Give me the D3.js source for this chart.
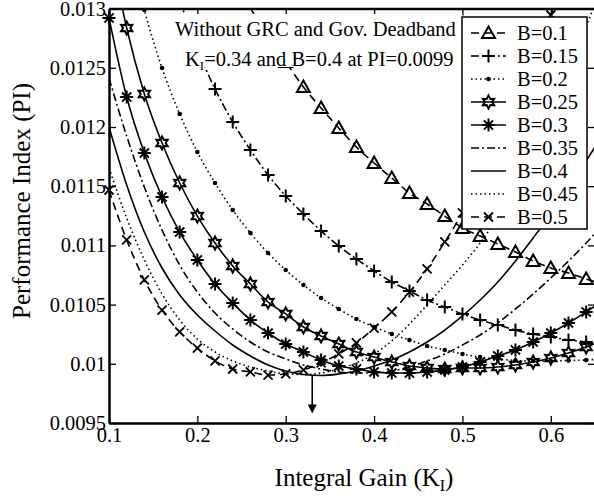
<!DOCTYPE html>
<html>
<head>
<meta charset="utf-8">
<script src="https://cdn.jsdelivr.net/npm/d3@7"></script>
<style>
  body { margin: 0; background: #fff; }
  svg, svg text { font-family: 'Liberation Serif', 'Times New Roman', Times, serif; }
</style>
</head>
<body>
<div id="chart"></div>
<script>
// integral gain samples (K_I)
const gains = [0.10, 0.12, 0.14, 0.16, 0.18, 0.20, 0.22, 0.24, 0.26, 0.28, 0.30, 0.32, 0.34, 0.36, 0.38,
  0.40, 0.42, 0.44, 0.46, 0.48, 0.50, 0.52, 0.54, 0.56, 0.58, 0.60, 0.62, 0.64, 0.66];

// performance index per B, null where the curve is off the chart
const piB010 = [null, null, null, null, null, null, null, 0.013284, 0.013005, 0.012760, 0.012549, 0.012338,
  0.012160, 0.011992, 0.011831, 0.011696, 0.011569, 0.011443, 0.011350, 0.011248, 0.011147, 0.011079,
  0.011012, 0.010944, 0.010868, 0.010809, 0.010767, 0.010716, 0.010674];
const piB015 = [null, null, null, null, 0.013073, 0.012659, 0.012321, 0.012042, 0.011806, 0.011595, 0.011417,
  0.011265, 0.011122, 0.010995, 0.010885, 0.010784, 0.010691, 0.010615, 0.010539, 0.010480, 0.010421,
  0.010370, 0.010328, 0.010285, 0.010252, 0.010226, 0.010201, 0.010184, 0.010167];
const piB020 = [null, 0.013596, 0.012988, 0.012498, 0.012110, 0.011789, 0.011527, 0.011299, 0.011105, 0.010936,
  0.010792, 0.010666, 0.010556, 0.010463, 0.010378, 0.010311, 0.010252, 0.010201, 0.010150, 0.010117,
  0.010083, 0.010057, 0.010041, 0.010028, 0.010024, 0.010024, 0.010028, 0.010032, 0.010041];
const piB025 = [0.013580, 0.012836, 0.012279, 0.011865, 0.011527, 0.011248, 0.011020, 0.010826, 0.010674,
  0.010522, 0.010421, 0.010311, 0.010235, 0.010167, 0.010100, 0.010057, 0.010015, 0.009981, 0.009965,
  0.009956, 0.009965, 0.009965, 0.009973, 0.009990, 0.010015, 0.010049, 0.010091, 0.010142, 0.010201];
const piB030 = [0.012921, 0.012253, 0.011780, 0.011409, 0.011113, 0.010877, 0.010674, 0.010514, 0.010370,
  0.010260, 0.010167, 0.010100, 0.010032, 0.009981, 0.009956, 0.009931, 0.009922, 0.009922, 0.009931,
  0.009948, 0.009973, 0.010015, 0.010066, 0.010117, 0.010184, 0.010260, 0.010345, 0.010438, 0.010539];
const piB035 = [0.012414, 0.011924, 0.011493, 0.011130, 0.010834, 0.010606, 0.010429, 0.010294, 0.010184,
  0.010100, 0.010041, 0.009990, 0.009956, 0.009931, 0.009922, 0.009922, 0.009939, 0.009973, 0.010024,
  0.010083, 0.010159, 0.010243, 0.010345, 0.010463, 0.010590, 0.010725, 0.010868, 0.011020, 0.011181];
const piB040 = [0.012000, 0.011510, 0.011113, 0.010809, 0.010581, 0.010412, 0.010277, 0.010159, 0.010066,
  0.009990, 0.009939, 0.009910, 0.009901, 0.009914, 0.009939, 0.009981, 0.010032, 0.010100, 0.010184,
  0.010285, 0.010404, 0.010539, 0.010691, 0.010868, 0.011063, 0.011265, 0.011485, 0.011713, 0.011949];
const piB045 = [0.011654, 0.011231, 0.010877, 0.010590, 0.010370, 0.010209, 0.010100, 0.010024, 0.009973,
  0.009939, 0.009914, 0.009910, 0.009922, 0.009956, 0.010007, 0.010083, 0.010193, 0.010336, 0.010497,
  0.010666, 0.010834, 0.011020, 0.011240, 0.011510, 0.011814, 0.012144, 0.012490, 0.012853, 0.013225];
const piB050 = [0.011468, 0.011046, 0.010708, 0.010454, 0.010269, 0.010133, 0.010024, 0.009956, 0.009931,
  0.009905, 0.009914, 0.009948, 0.010007, 0.010083, 0.010176, 0.010302, 0.010438, 0.010606, 0.010801,
  0.011029, 0.011274, 0.011552, 0.011856, 0.012186, 0.012549, 0.012946, 0.013368, null, null];

const seriesNames = ['B=0.1', 'B=0.15', 'B=0.2', 'B=0.25', 'B=0.3', 'B=0.35', 'B=0.4', 'B=0.45', 'B=0.5'];
const seriesValues = [piB010, piB015, piB020, piB025, piB030, piB035, piB040, piB045, piB050];

const xTicks = [0.1, 0.2, 0.3, 0.4, 0.5, 0.6];
const xTickLabels = ['0.1', '0.2', '0.3', '0.4', '0.5', '0.6'];
const yTicks = [0.0095, 0.01, 0.0105, 0.011, 0.0115, 0.012, 0.0125, 0.013];
const yTickLabels = ['0.0095', '0.01', '0.0105', '0.011', '0.0115', '0.012', '0.0125', '0.013'];

// optimum marked by the arrow
const optimumGain = 0.33;
const optimumPI = 0.0099;
const arrowEndPI = 0.00958;

const FONT = "'Liberation Serif', 'Times New Roman', Times, serif";

/**
 * Line style and marker for each series
 */
const DASH = { solid: null, dashed: '8,5', dashdot: '8,3,2,3', dotted: '1.5,3' };
const styles = [
  { dash: DASH.dashed, marker: 'triangle' },
  { dash: DASH.dashdot, marker: 'plus' },
  { dash: DASH.dotted, marker: 'dot' },
  { dash: DASH.solid, marker: 'hexagram' },
  { dash: DASH.solid, marker: 'asterisk' },
  { dash: DASH.dashdot, marker: null },
  { dash: DASH.solid, marker: null },
  { dash: DASH.dotted, marker: null },
  { dash: DASH.dashed, marker: 'cross' }
];

const W = 594, H = 500;
const plot = { left: 109, right: 595, top: 8.6, bottom: 423 };

const svg = d3.select('#chart').append('svg')
  .attr('width', W)
  .attr('height', H)
  .attr('font-family', FONT);

const x = d3.scaleLinear().domain([0.1, 0.65]).range([plot.left, plot.right]);
const y = d3.scaleLinear().domain([0.0095, 0.013]).range([plot.bottom, plot.top]);

svg.append('clipPath').attr('id', 'plot-clip')
  .append('rect')
    .attr('x', plot.left).attr('y', plot.top)
    .attr('width', plot.right - plot.left).attr('height', plot.bottom - plot.top);

/**
 * Returns svg path of a marker centered on 0,0
 */
let markerPath = type => {
  if (type == 'triangle') return 'M0,-6.5L6.5,5L-6.5,5Z';
  if (type == 'plus') return 'M-6.5,0H6.5M0,-6.5V6.5';
  if (type == 'cross') return 'M-4.5,-4.5L4.5,4.5M-4.5,4.5L4.5,-4.5';
  if (type == 'asterisk') {
    let p = '';
    for (let i = 0; i < 4; i++) {
      const a = i * Math.PI / 4, r = 6.5;
      p += 'M' + (-r * Math.cos(a)) + ',' + (-r * Math.sin(a)) + 'L' + (r * Math.cos(a)) + ',' + (r * Math.sin(a));
    }
    return p;
  }
  if (type == 'hexagram') {
    const pts = [];
    for (let i = 0; i < 12; i++) {
      const a = -Math.PI / 2 + i * Math.PI / 6, r = i % 2 == 0 ? 6.5 : 3.6;
      pts.push([r * Math.cos(a), r * Math.sin(a)]);
    }
    return 'M' + pts.map(p => p.join(',')).join('L') + 'Z';
  }
  return null;
}

let drawMarker = (g, type, cx, cy) => {
  if (!type) return;
  if (type == 'dot') {
    g.append('circle').attr('cx', cx).attr('cy', cy).attr('r', 2.3).attr('fill', '#000');
    return;
  }
  g.append('path')
    .attr('transform', 'translate(' + cx + ',' + cy + ')')
    .attr('d', markerPath(type))
    .attr('fill', 'none')
    .attr('stroke', '#000')
    .attr('stroke-width', type == 'cross' ? 1.8 : 2);
}

// curves
const line = d3.line()
  .defined(d => d.v != null)
  .x(d => x(d.k))
  .y(d => y(d.v))
  .curve(d3.curveMonotoneX);

const curves = svg.append('g').attr('class', 'curves');
seriesValues.forEach((vals, i) => {
  const pts = gains.map((k, j) => ({ k: k, v: vals[j] }));
  curves.append('path')
    .datum(pts)
    .attr('clip-path', 'url(#plot-clip)')
    .attr('fill', 'none')
    .attr('stroke', '#000')
    .attr('stroke-width', 1.6)
    .attr('stroke-dasharray', styles[i].dash)
    .attr('d', line);
  const mg = curves.append('g');
  pts.filter(d => d.v != null && d.k <= 0.65 && d.v <= 0.013)
    .forEach(d => drawMarker(mg, styles[i].marker, x(d.k), y(d.v)));
});

// axes
let styleAxis = g => {
  g.attr('font-family', FONT).attr('font-size', 20.5);
  g.select('.domain').attr('stroke', '#000').attr('stroke-width', 2.5);
  g.selectAll('.tick line').attr('stroke', '#000').attr('stroke-width', 1.3);
  g.selectAll('.tick text').attr('fill', '#000');
}

svg.append('g')
  .attr('transform', 'translate(0,' + plot.bottom + ')')
  .call(d3.axisBottom(x).tickValues(xTicks).tickSizeInner(-7).tickSizeOuter(0).tickPadding(4)
    .tickFormat((d, i) => xTickLabels[i]))
  .call(styleAxis);

svg.append('g')
  .attr('transform', 'translate(0,' + plot.top + ')')
  .call(d3.axisTop(x).tickValues(xTicks).tickSizeInner(-7).tickSizeOuter(0).tickFormat(''))
  .call(styleAxis);

svg.append('g')
  .attr('transform', 'translate(' + plot.left + ',0)')
  .call(d3.axisLeft(y).tickValues(yTicks).tickSizeInner(-7).tickSizeOuter(0).tickPadding(3)
    .tickFormat((d, i) => yTickLabels[i]))
  .call(styleAxis);

svg.append('g')
  .attr('transform', 'translate(' + plot.right + ',0)')
  .call(d3.axisRight(y).tickValues(yTicks).tickSizeInner(-7).tickSizeOuter(0).tickFormat(''))
  .call(styleAxis);

// axis titles
const xTitle = svg.append('text')
  .attr('x', 364).attr('y', 486)
  .attr('text-anchor', 'middle')
  .attr('font-size', 25);
xTitle.append('tspan').text('Integral Gain (K');
xTitle.append('tspan').attr('font-size', 16).attr('dy', 5).text('I');
xTitle.append('tspan').attr('dy', -5).text(')');

svg.append('text')
  .attr('transform', 'translate(30,201) rotate(-90)')
  .attr('text-anchor', 'middle')
  .attr('font-size', 25)
  .text('Performance Index (PI)');

// optimum arrow
const arrow = svg.append('g');
arrow.append('line')
  .attr('x1', x(optimumGain)).attr('x2', x(optimumGain))
  .attr('y1', y(optimumPI)).attr('y2', y(arrowEndPI) - 6)
  .attr('stroke', '#000').attr('stroke-width', 1.6);
arrow.append('path')
  .attr('d', 'M' + (x(optimumGain) - 4.5) + ',' + (y(arrowEndPI) - 9) + 'L' + (x(optimumGain) + 4.5) + ','
    + (y(arrowEndPI) - 9) + 'L' + x(optimumGain) + ',' + y(arrowEndPI) + 'Z')
  .attr('fill', '#000');

// annotation with white background
const note = svg.append('g');
note.append('rect')
  .attr('x', 172).attr('y', 14).attr('width', 289).attr('height', 53)
  .attr('fill', '#fff');
note.append('text')
  .attr('x', 175).attr('y', 36)
  .attr('font-size', 20.5)
  .text('Without GRC and Gov. Deadband');
const note2 = note.append('text')
  .attr('x', 185).attr('y', 66)
  .attr('font-size', 20.5);
note2.append('tspan').text('K');
note2.append('tspan').attr('font-size', 13).attr('dy', 4).text('I');
note2.append('tspan').attr('dy', -4).text('=0.34 and B=0.4 at PI=0.0099');

// legend
const legend = svg.append('g').attr('transform', 'translate(462,17)');
legend.append('rect')
  .attr('width', 125).attr('height', 212)
  .attr('fill', '#fff')
  .attr('stroke', '#000')
  .attr('stroke-width', 1.5);

seriesNames.forEach((name, i) => {
  const row = legend.append('g').attr('transform', 'translate(0,' + (16 + i * 23) + ')');
  row.append('line')
    .attr('x1', 9).attr('x2', 44)
    .attr('stroke', '#000')
    .attr('stroke-width', 1.6)
    .attr('stroke-dasharray', styles[i].dash);
  drawMarker(row, styles[i].marker, 26.5, 0);
  row.append('text')
    .attr('x', 55).attr('y', 7)
    .attr('font-size', 20.5)
    .text(name);
});
</script>
</body>
</html>
